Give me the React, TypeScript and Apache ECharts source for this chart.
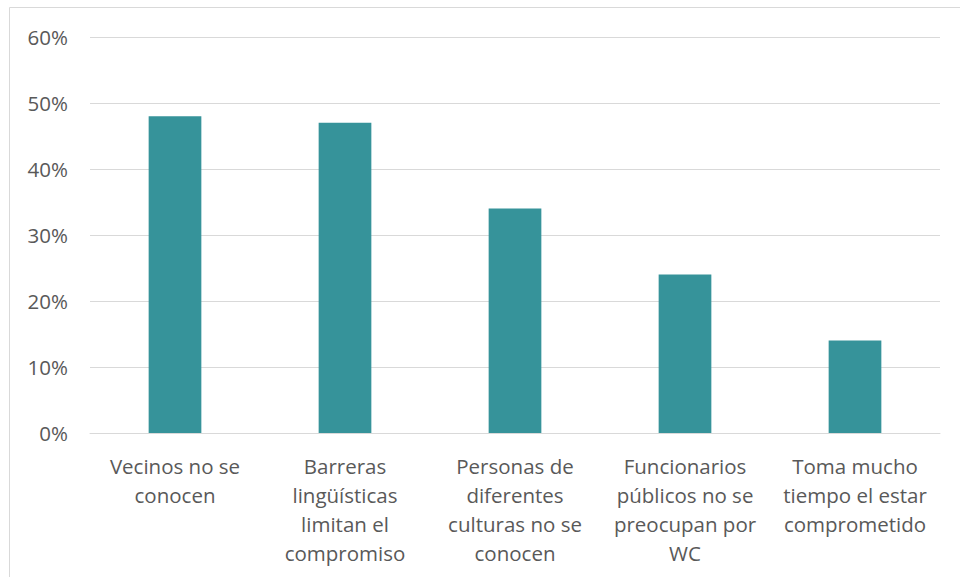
import React, { useEffect, useRef } from "react";
import * as echarts from "echarts";

const categories = [
  "Vecinos no se\nconocen",
  "Barreras\nlingüísticas\nlimitan el\ncompromiso",
  "Personas de\ndiferentes\nculturas no se\nconocen",
  "Funcionarios\npúblicos no se\npreocupan por\nWC",
  "Toma mucho\ntiempo el estar\ncomprometido",
];
const values = [48, 47, 34, 24, 14];
const yTicks = [0, 10, 20, 30, 40, 50, 60];

const FONT = "'Open Sans', 'Noto Sans', sans-serif";

export default function App() {
  const ref = useRef<HTMLDivElement>(null);
  useEffect(() => {
    if (!ref.current) return;
    const chart = echarts.init(ref.current, undefined, { renderer: "svg" });
    chart.setOption({
      animation: false,
      backgroundColor: "#ffffff",
      textStyle: { fontFamily: FONT },
      graphic: [
        {
          type: "rect",
          shape: { x: 9.5, y: 7.5, width: 1000, height: 700 },
          style: { fill: "none", stroke: "#D9D9D9", lineWidth: 1 },
          silent: true,
        },
      ],
      grid: { left: 90, right: 20, top: 37, bottom: 144 },
      xAxis: {
        type: "category",
        data: categories,
        axisLine: { show: true, lineStyle: { color: "#D9D9D9", width: 1 } },
        axisTick: { show: false },
        axisLabel: {
          interval: 0,
          color: "#595959",
          fontSize: 20.5,
          lineHeight: 29,
          margin: 18,
          fontFamily: FONT,
          align: "center",
        },
      },
      yAxis: {
        type: "value",
        min: yTicks[0],
        max: yTicks[yTicks.length - 1],
        interval: 10,
        axisLine: { show: false },
        axisTick: { show: false },
        splitLine: { lineStyle: { color: "#D9D9D9", width: 1 } },
        axisLabel: {
          color: "#595959",
          fontSize: 20.5,
          margin: 22,
          fontFamily: FONT,
          formatter: (v: number) => `${v}%`,
        },
      },
      series: [
        {
          type: "bar",
          data: values,
          barWidth: "31%",
          itemStyle: { color: "#36939A" },
        },
      ],
    });
    return () => chart.dispose();
  }, []);
  return (
    <div
      ref={ref}
      style={{ position: "absolute", left: 0, top: 0, width: 960, height: 577 }}
    />
  );
}
